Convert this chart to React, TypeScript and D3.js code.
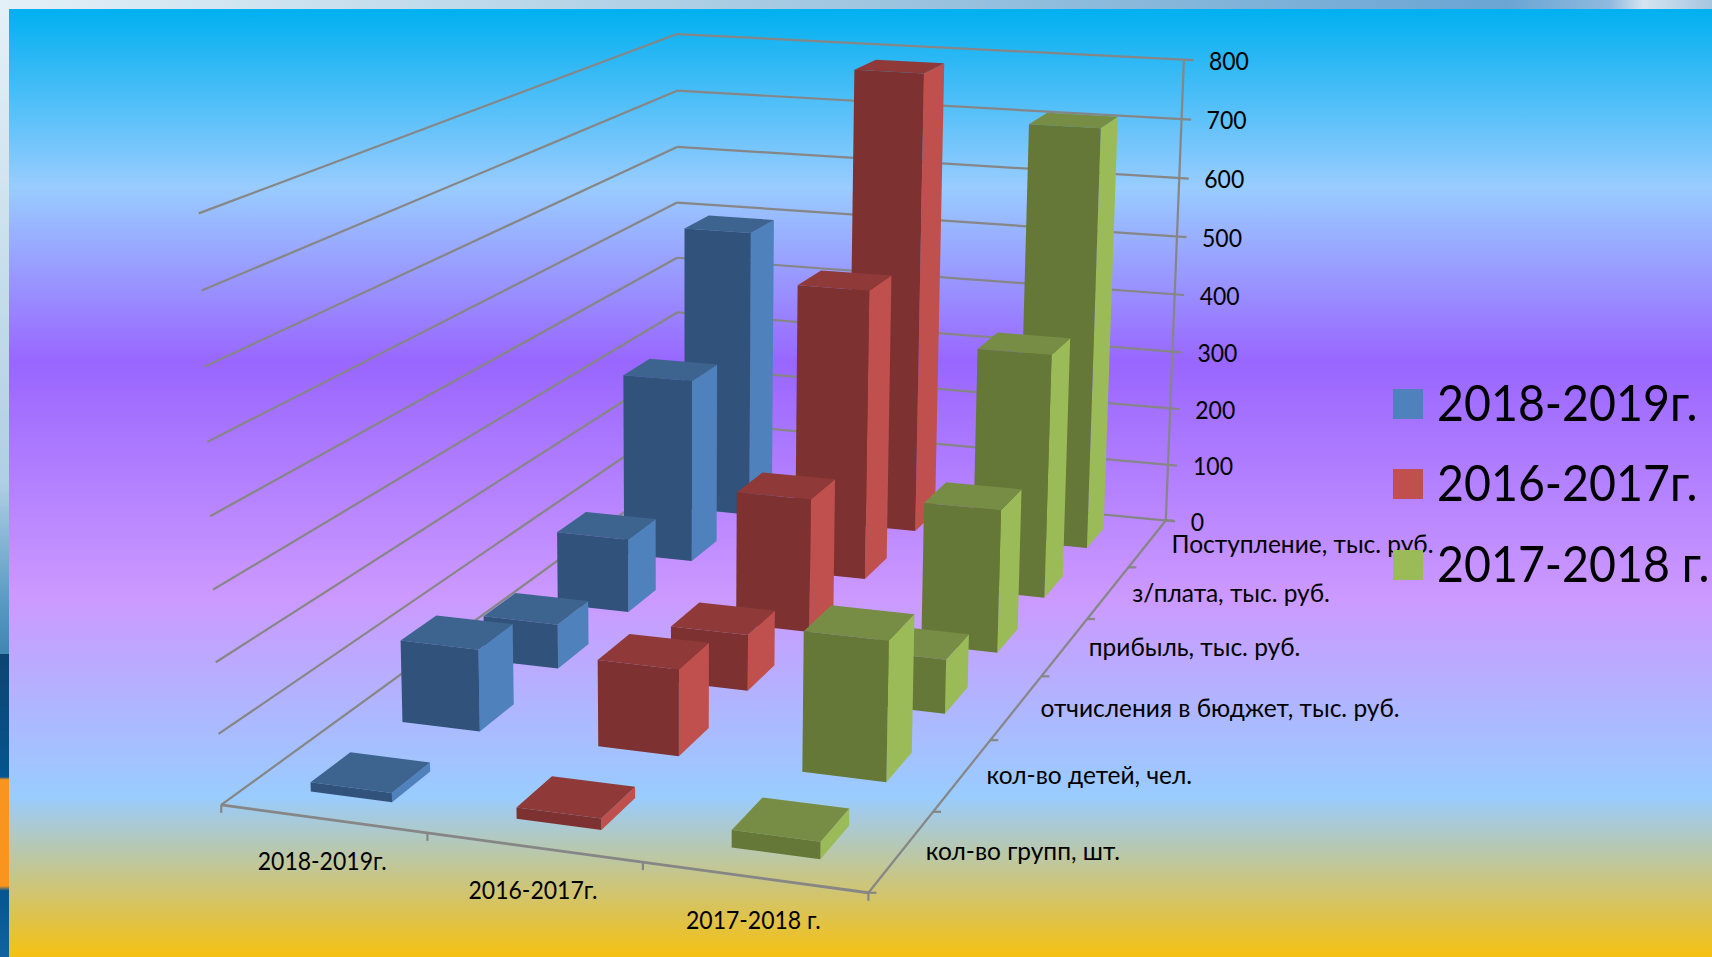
import * as d3 from "d3"

const seriesNames = ["2018-2019г.", "2016-2017г.", "2017-2018 г."]
const rowNames = [
  "кол-во групп, шт.",
  "кол-во детей, чел.",
  "отчисления в бюджет, тыс. руб.",
  "прибыль, тыс. руб.",
  "з/плата, тыс. руб.",
  "Поступление, тыс. руб.",
]
// one value per row, front row first
const values2018 = [13, 122, 69, 119, 307, 498]
const values2016 = [16, 127, 86, 213, 480, 786]
const values2017 = [24, 202, 82, 225, 399, 712]
const yTicks = [0, 100, 200, 300, 400, 500, 600, 700, 800]

const WIDTH = 1712
const HEIGHT = 957

const PALETTE = [
  { side: "#4f81bd", front: "#31527a", top: "#3d648f" },
  { side: "#c0504d", front: "#7d3231", top: "#8f3a39" },
  { side: "#9bbb59", front: "#657837", top: "#778d45" },
]

// where the corners of the chart box land on screen: [u, v, w, x, y]
const frame = [
  [0, 0, 0, 221.6, 805],
  [1, 0, 0, 868, 893],
  [1, 1, 0, 1166, 520],
  [0, 1, 0, 677, 474],
  [0, 0, 1, 198.7, 213],
  [1, 1, 1, 1184, 60],
  [0, 1, 1, 677, 34],
]

// least squares fit of the perspective matrix from the box corners
function fitCamera(pts: number[][]) {
  const rows: number[][] = []
  const rhs: number[] = []
  pts.forEach(([u, v, w, x, y]) => {
    rows.push([u, v, w, 1, 0, 0, 0, 0, -x * u, -x * v, -x * w])
    rhs.push(x)
    rows.push([0, 0, 0, 0, u, v, w, 1, -y * u, -y * v, -y * w])
    rhs.push(y)
  })
  const n = 11
  const m = d3.range(n).map((i) => [
    ...d3.range(n).map((j) => d3.sum(rows, (r) => r[i] * r[j])),
    d3.sum(rows, (r, k) => r[i] * rhs[k]),
  ])
  for (let i = 0; i < n; i++) {
    let best = i
    for (let k = i + 1; k < n; k++) if (Math.abs(m[k][i]) > Math.abs(m[best][i])) best = k
    ;[m[i], m[best]] = [m[best], m[i]]
    for (let k = 0; k < n; k++) {
      if (k === i) continue
      const f = m[k][i] / m[i][i]
      for (let j = i; j <= n; j++) m[k][j] -= f * m[i][j]
    }
  }
  const p = m.map((r, i) => r[n] / r[i])
  return (u: number, v: number, w: number): [number, number] => {
    const d = p[8] * u + p[9] * v + p[10] * w + 1
    return [
      (p[0] * u + p[1] * v + p[2] * w + p[3]) / d,
      (p[4] * u + p[5] * v + p[6] * w + p[7]) / d,
    ]
  }
}

const project = fitCamera(frame)

const xScale = d3.scaleBand<number>().domain(d3.range(seriesNames.length)).range([0, 1]).padding(0)
const zScale = d3.scaleBand<number>().domain(d3.range(rowNames.length)).range([0, 1]).padding(0)
const yScale = d3.scaleLinear().domain([0, 800]).range([0, 1])

const COL_W = 0.4 // share of the band
const COL_D = 0.42

const poly = d3.line<[number, number]>()

function face(pts: [number, number, number][]) {
  return poly(pts.map(([u, v, w]) => project(u, v, w))) + "Z"
}

function seg(a: [number, number, number], b: [number, number, number]) {
  return poly([project(...a), project(...b)]) || ""
}

const allSeries = [values2018, values2016, values2017]

const FONT = "Lato, 'Open Sans', 'Noto Sans', sans-serif"
const GRID = "#868686"

function Column({ s, r }: { s: number; r: number }) {
  const bw = xScale.bandwidth()
  const bd = zScale.bandwidth()
  const u0 = xScale(s)! + (bw * (1 - COL_W)) / 2
  const u1 = u0 + bw * COL_W
  const v0 = zScale(r)! + (bd * (1 - COL_D)) / 2
  const v1 = v0 + bd * COL_D
  const h = yScale(allSeries[s][r])
  const c = PALETTE[s]
  return (
    <g>
      <path d={face([[u1, v0, 0], [u1, v1, 0], [u1, v1, h], [u1, v0, h]])} fill={c.side} />
      <path d={face([[u0, v0, h], [u1, v0, h], [u1, v1, h], [u0, v1, h]])} fill={c.top} />
      <path d={face([[u0, v0, 0], [u1, v0, 0], [u1, v0, h], [u0, v0, h]])} fill={c.front} />
    </g>
  )
}

// Lato is wider than the original font, so labels get squeezed a little
function Label({ x, y, size, sx, anchor, children }: any) {
  return (
    <text
      transform={`translate(${x},${y}) scale(${sx},1)`}
      fontSize={size}
      textAnchor={anchor || "start"}
      dominantBaseline="middle"
      fill="#000"
    >
      {children}
    </text>
  )
}

export default function App() {
  const rowsBackToFront = d3.range(rowNames.length).reverse()
  const xEdges = d3.range(seriesNames.length + 1).map((i) => i / seriesNames.length)
  const zEdges = d3.range(rowNames.length + 1).map((i) => i / rowNames.length)
  const legendY = [404, 484, 565]

  return (
    <svg
      width={WIDTH}
      height={HEIGHT}
      style={{ position: "absolute", left: 0, top: 0, display: "block" }}
      fontFamily={FONT}
    >
      <defs>
        <linearGradient id="bg" x1="0" y1="0" x2="0" y2="1">
          <stop offset="0" stopColor="#00b0f0" />
          <stop offset="0.188" stopColor="#99ccff" />
          <stop offset="0.373" stopColor="#9966ff" />
          <stop offset="0.62" stopColor="#cc99ff" />
          <stop offset="0.83" stopColor="#99ccff" />
          <stop offset="1" stopColor="#f5c011" />
        </linearGradient>
        <linearGradient id="topStrip" x1="0" y1="0" x2="1" y2="0">
          <stop offset="0" stopColor="#e4f0f7" />
          <stop offset="0.5" stopColor="#a0c6e0" />
          <stop offset="0.88" stopColor="#6aa5d4" />
          <stop offset="0.94" stopColor="#8fb9de" />
          <stop offset="0.96" stopColor="#d5e4f0" />
          <stop offset="1" stopColor="#a5c5e0" />
        </linearGradient>
        <linearGradient id="leftStrip" x1="0" y1="0" x2="0" y2="1">
          <stop offset="0" stopColor="#e4f0f7" />
          <stop offset="0.3" stopColor="#c4dcea" />
          <stop offset="0.5" stopColor="#b0cfe4" />
          <stop offset="0.62" stopColor="#5d9cc4" />
          <stop offset="0.68" stopColor="#3f86b0" />
          <stop offset="0.68" stopColor="#0d4470" />
          <stop offset="0.81" stopColor="#05558f" />
          <stop offset="0.813" stopColor="#f9951f" />
          <stop offset="0.925" stopColor="#f9951f" />
          <stop offset="0.93" stopColor="#05558f" />
          <stop offset="1" stopColor="#10639f" />
        </linearGradient>
      </defs>

      <rect width={WIDTH} height={9} fill="url(#topStrip)" />
      <rect y={9} width={9} height={HEIGHT - 9} fill="url(#leftStrip)" />
      <rect x={9} y={9} width={WIDTH - 9} height={HEIGHT - 9} fill="url(#bg)" />

      {/* walls */}
      <g stroke={GRID} strokeWidth={2.2} fill="none">
        {yTicks.map((t) => (
          <g key={t}>
            <path d={seg([0, 0, yScale(t)], [0, 1, yScale(t)])} />
            <path d={seg([0, 1, yScale(t)], [1.018, 1, yScale(t)])} />
          </g>
        ))}
        <path d={seg([1, 1, 0], [1, 1, 1])} />
        <path d={seg([0, 0, 0], [1, 0, 0])} strokeWidth={2.8} />
        <path d={seg([1, 0, 0], [1, 1, 0])} />
        {xEdges.map((u) => {
          const [x, y] = project(u, 0, 0)
          return <line key={u} x1={x} x2={x} y1={y} y2={y + 8} />
        })}
        {zEdges.map((v) => {
          const [x, y] = project(1, v, 0)
          return <line key={v} x1={x} x2={x + 8} y1={y} y2={y} />
        })}
      </g>

      {rowsBackToFront.map((r) =>
        seriesNames.map((_, s) => <Column key={`${s}-${r}`} s={s} r={r} />),
      )}

      {/* value axis labels */}
      {yTicks.map((t) => {
        const [x, y] = project(1, 1, yScale(t))
        return (
          <Label key={t} x={x + 25} y={y + 4} size={25} sx={0.92}>
            {t}
          </Label>
        )
      })}

      {/* series labels under the front edge */}
      {seriesNames.map((name, s) => {
        const [x, y] = project(xScale(s)! + xScale.bandwidth() / 2, 0, 0)
        return (
          <Label key={name} x={x - 1} y={y + 45} size={25} sx={0.92} anchor="middle">
            {name}
          </Label>
        )
      })}

      {/* row labels along the right edge */}
      {rowNames.map((name, r) => {
        const [x, y] = project(1, zScale(r)! + zScale.bandwidth() / 2, 0)
        return (
          <Label key={name} x={x + 24} y={y + 3} size={25} sx={0.98}>
            {name}
          </Label>
        )
      })}

      {/* legend */}
      {seriesNames.map((name, s) => (
        <g key={name}>
          <rect x={1393} y={legendY[s] - 15} width={30} height={30} fill={PALETTE[s].side} />
          <Label x={1437} y={legendY[s] + 4} size={50} sx={0.93}>
            {name}
          </Label>
        </g>
      ))}
    </svg>
  )
}
